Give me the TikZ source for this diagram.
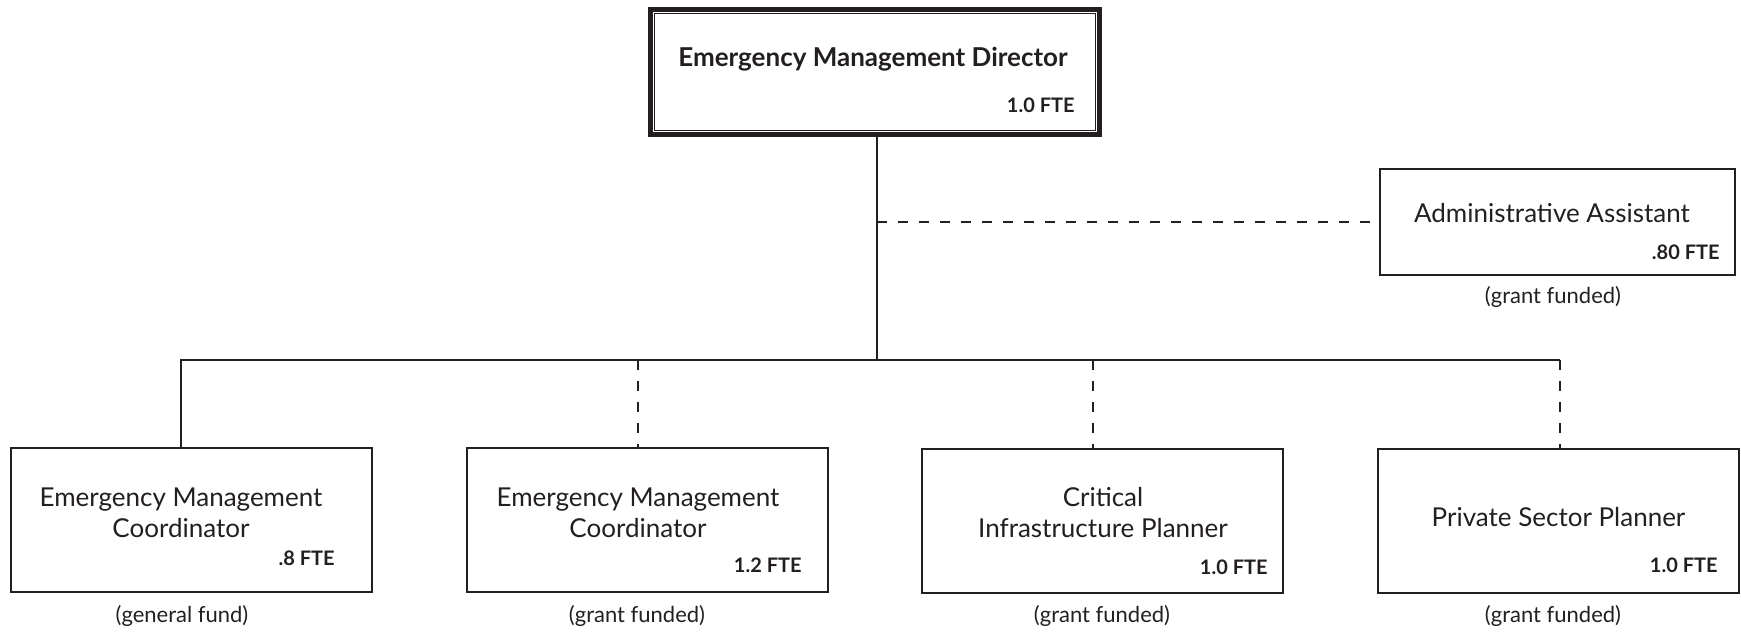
\documentclass[tikz,border=0pt]{standalone}
\usepackage{fontspec}
\setmainfont{Lato}
\usetikzlibrary{positioning}
\definecolor{ink}{HTML}{231F20}

\tikzset{
  post/.style={draw=ink, line width=1pt, minimum width=180.5pt, minimum height=72pt, inner sep=0pt},
  role/.style={align=center, inner sep=0pt, text=ink, font=\fontsize{13}{15.5}\selectfont},
  fte/.style={anchor=base east, inner sep=0pt, text=ink, font=\bfseries\fontsize{10}{12}\selectfont},
  fund/.style={anchor=base, inner sep=0pt, text=ink, font=\fontsize{11}{13}\selectfont},
  link/.style={draw=ink, line width=0.8pt},
  dashlink/.style={link, dash pattern=on 5pt off 5.5pt},
}

\begin{document}
\begin{tikzpicture}[x=0.5pt, y=-0.5pt]
  \useasboundingbox (0,0) rectangle (1741,635);

  \node[post, line width=2.2pt, minimum width=224.4pt, minimum height=62.5pt] (dir) at (875,72) {};
  \draw[ink, line width=0.6pt] ([shift={(3pt,-3pt)}]dir.north west) rectangle ([shift={(-3pt,3pt)}]dir.south east);
  \node[role, anchor=base, font=\bfseries\fontsize{13}{15}\selectfont] (dirname) at (873,67) {Emergency Management Director};
  \node[fte] (dirfte) at (1075,113) {1.0 FTE};

  \node[post, minimum width=177.5pt, minimum height=53pt] (admin) at (1557.5,222) {};
  \node[role, anchor=base] (adminname) at (1552,223) {Administrative Assistant};
  \node[fte] (adminfte) at (1720,260) {.80 FTE};
  \node[fund] (adminfund) at (1553,304) {(grant funded)};

  \node[post] (coorda) at (191,520) {};
  \node[post] (coordb) at (647.5,520) {};
  \node[post] (infra) at (1102.5,521) {};
  \node[post] (private) at (1558.5,521) {};

  \node[role, anchor=base] (coordaname) at (181,538) {Emergency Management\\Coordinator};
  \node[role, anchor=base] (coordbname) at (638,538) {Emergency Management\\Coordinator};
  \node[role, anchor=base] (infraname) at (1103,538) {Critical\\Infrastructure Planner};
  \node[role, anchor=base] (privatename) at (1558.5,527) {Private Sector Planner};

  \node[fte] (coordafte) at (335,566) {.8 FTE};
  \node[fte] (coordbfte) at (802,573) {1.2 FTE};
  \node[fte] (infrafte) at (1268,575) {1.0 FTE};
  \node[fte] (privatefte) at (1718,573) {1.0 FTE};

  \node[fund] (coordafund) at (182,623) {(general fund)};
  \node[fund] (coordbfund) at (637,623) {(grant funded)};
  \node[fund] (infrafund) at (1102,623) {(grant funded)};
  \node[fund] (privatefund) at (1553,623) {(grant funded)};

  \coordinate (hub) at (877,360);
  \coordinate (busl) at (181,360);
  \coordinate (busr) at (1560,360);
  \coordinate (tapb) at (638,360);
  \coordinate (tapc) at (1093,360);

  \draw[link] (dir.south -| hub) -- (hub);
  \draw[link] (coorda.north -| busl) -- (busl) -- (busr);
  \draw[dashlink] (hub |- admin.west) -- (admin.west);
  \draw[dashlink] (tapb) -- (tapb |- coordb.north);
  \draw[dashlink] (tapc) -- (tapc |- infra.north);
  \draw[dashlink] (busr) -- (busr |- private.north);
\end{tikzpicture}
\end{document}
